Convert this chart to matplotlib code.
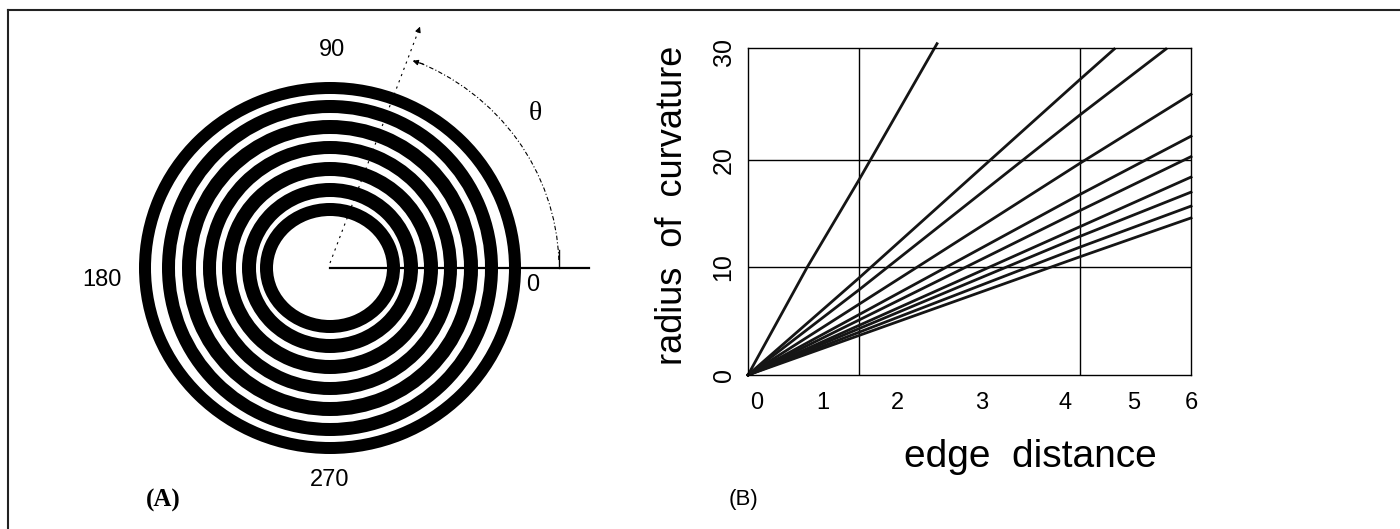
import matplotlib
matplotlib.use("Agg")
import matplotlib.pyplot as plt
from matplotlib.patches import Annulus, Arc
from matplotlib.lines import Line2D

plt.rcParams['font.family'] = ['Liberation Sans', 'DejaVu Sans']

# panel A: concentric rings (pixel-sized units, centre at origin)
ring_rx = [191, 168, 148, 127, 108, 88, 70]   # horizontal outer radius
ring_ry = [186, 168, 148, 127, 106, 85, 65]   # vertical outer radius
ring_w = [12, 13, 14, 13, 14, 14, 13]         # ring thickness
angle_labels = ['0', '90', '180', '270']

# panel B: radius of curvature vs edge distance
line_x = [
    [0, 0.8, 1.5, 2.56],
    [0, 1.5, 4.5, 4.96],
    [0, 1.5, 4.5, 5.66],
    [0, 4.5, 6.0],
    [0, 4.5, 6.0],
    [0, 4.5, 6.0],
    [0, 4.5, 6.0],
    [0, 4.5, 6.0],
    [0, 4.5, 6.0],
    [0, 4.5, 6.0],
]
line_y = [
    [0, 10.0, 18.1, 30.8],
    [0, 9.0, 27.5, 30.3],
    [0, 7.9, 24.2, 30.3],
    [0, 19.7, 26.1],
    [0, 16.8, 22.2],
    [0, 15.3, 20.3],
    [0, 13.8, 18.4],
    [0, 12.9, 17.0],
    [0, 11.9, 15.7],
    [0, 11.0, 14.6],
]
xtick_pos = [0.12, 1.02, 2.03, 3.17, 4.30, 5.22, 6.0]
xtick_lbl = ['0', '1', '2', '3', '4', '5', '6']
ytick_pos = [0, 10, 20, 30]
grid_x = [1.5, 4.5]
grid_y = [10, 20]

W, H = 1400, 529
fig = plt.figure(figsize=(W / 100, H / 100), dpi=100)

# frame (top and left rules)
fig.add_artist(Line2D([8 / W, 1], [1 - 9.5 / H, 1 - 9.5 / H], color='#222222', lw=1.5))
fig.add_artist(Line2D([8 / W, 8 / W], [0, 1 - 9.5 / H], color='#222222', lw=1.5))

# ---------- panel A ----------
axa = fig.add_axes([60 / W, 0, 580 / W, 1 - 15 / H])
axa.set_xlim(-270, 310)
axa.set_ylim(-261, 253)
axa.axis('off')
for rx, ry, w in zip(ring_rx, ring_ry, ring_w):
    axa.add_patch(Annulus((0, 0), (rx, ry), w, color='black', lw=0))

axa.plot([0, 259], [0, 0], color='black', lw=1.6, zorder=3)
axa.plot([229, 229], [0, 18], color='black', lw=1.0, zorder=3)
axa.add_patch(Arc((0, 0), 458, 446, theta1=2, theta2=68, color='black',
                  lw=0.8, ls=(0, (4, 2, 1, 2)), zorder=3))
axa.plot([0, 88], [5, 236], color='black', lw=0.8, ls=(0, (2, 4)), zorder=3)
axa.annotate('', xy=(91, 244), xytext=(88, 236),
             arrowprops=dict(arrowstyle='-|>', color='black', lw=0.8,
                             mutation_scale=8))
axa.annotate('', xy=(80, 208), xytext=(96, 203),
             arrowprops=dict(arrowstyle='-|>', color='black', lw=0.8,
                             mutation_scale=8))

lbl_xy = [(203, -17), (2, 218), (-228, -12), (0, -212)]
for (tx, ty), t in zip(lbl_xy, angle_labels):
    axa.text(tx, ty, t, fontsize=17, ha='center', va='center')
axa.text(205, 155, 'θ', fontsize=20, ha='center', va='center',
         family=['Liberation Serif', 'DejaVu Serif'])

fig.text(163 / W, 1 - 500 / H, '(A)', fontsize=18, fontweight='bold',
         ha='center', va='center', family=['Liberation Serif', 'DejaVu Serif'])
fig.text(743 / W, 1 - 500 / H, '(B)', fontsize=16, ha='center', va='center')

# ---------- panel B ----------
axb = fig.add_axes([748 / W, 1 - 375 / H, 443 / W, 327 / H])
for xs, ys in zip(line_x, line_y):
    axb.plot(xs, ys, color='#151515', lw=2.0, clip_on=False)
axb.set_xlim(0, 6.0)
axb.set_ylim(0, 30.4)
axb.xaxis.remove_overlapping_locs = False
axb.yaxis.remove_overlapping_locs = False
axb.set_xticks(xtick_pos)
axb.set_xticklabels(xtick_lbl)
axb.set_yticks(ytick_pos)
axb.set_xticks(grid_x, minor=True)
axb.set_yticks(grid_y, minor=True)
axb.grid(which='minor', color='black', lw=1.0)
axb.tick_params(which='both', length=0)
axb.tick_params(axis='x', labelsize=17, pad=12)
axb.tick_params(axis='y', labelsize=18, pad=9, labelrotation=90)
for lab in axb.get_yticklabels():
    lab.set_va('center')
for sp in axb.spines.values():
    sp.set_linewidth(1.0)

axb.set_xlabel('edge  distance', fontsize=28)
axb.xaxis.set_label_coords((1030 - 748) / 443, (375 - 457) / 327)
axb.xaxis.label.set_va('center')
axb.set_ylabel('radius  of  curvature', fontsize=26)
axb.yaxis.set_label_coords((672 - 748) / 443, (375 - 205) / 327)
axb.yaxis.label.set_va('center')

fig.savefig('out.png', dpi=100)
